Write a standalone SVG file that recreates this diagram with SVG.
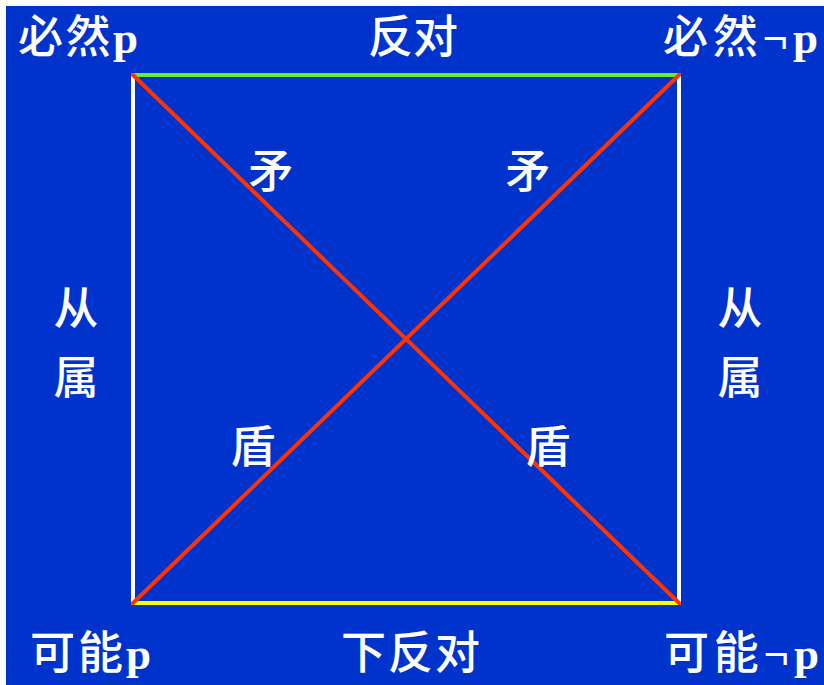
<svg xmlns="http://www.w3.org/2000/svg" width="824" height="685" viewBox="0 0 824 685">
<style>
.t{font-family:"Liberation Serif","Noto Sans CJK SC",serif;font-size:45px;font-weight:500;fill:#ffffff}
.b{font-weight:bold}
.m{text-anchor:middle}
.ln{stroke-width:4;fill:none;stroke-linecap:round}
</style>
<rect x="0" y="0" width="824" height="685" fill="#ffffff"/>
<rect x="6" y="6" width="818" height="679" fill="#0033cc"/>
<g id="connectors">
<line class="ln" x1="133" y1="75" x2="133" y2="603" stroke="#ffffff"/>
<line class="ln" x1="679" y1="75" x2="679" y2="603" stroke="#ffffff"/>
<line class="ln" x1="133" y1="75" x2="679" y2="75" stroke="#66ee33"/>
<line class="ln" x1="133" y1="603" x2="679" y2="603" stroke="#ffff00"/>
<line class="ln" x1="133" y1="75" x2="679" y2="603" stroke="#ff3300"/>
<line class="ln" x1="679" y1="75" x2="133" y2="603" stroke="#ff3300"/>
</g>
<g id="n-nec-p"><text class="t" x="18" y="53" textLength="120" lengthAdjust="spacing">必然<tspan class="b">p</tspan></text></g>
<g id="n-nec-notp"><text class="t" x="663" y="53" textLength="155" lengthAdjust="spacing">必然<tspan class="b">¬p</tspan></text></g>
<g id="n-pos-p"><text class="t" x="30" y="669" textLength="121" lengthAdjust="spacing">可能<tspan class="b">p</tspan></text></g>
<g id="n-pos-notp"><text class="t" x="664" y="669" textLength="155" lengthAdjust="spacing">可能<tspan class="b">¬p</tspan></text></g>
<g id="l-contrary"><text class="t" x="368" y="53" textLength="90" lengthAdjust="spacing">反对</text></g>
<g id="l-subcontrary"><text class="t" x="341" y="669" textLength="139" lengthAdjust="spacing">下反对</text></g>
<g id="l-sub-left"><text class="t m" x="76" y="325">从</text><text class="t m" x="76" y="394">属</text></g>
<g id="l-sub-right"><text class="t m" x="740" y="325">从</text><text class="t m" x="740" y="394">属</text></g>
<g id="l-contra"><text class="t m" x="271" y="188">矛</text><text class="t m" x="528" y="188">矛</text><text class="t m" x="253" y="463">盾</text><text class="t m" x="548" y="463">盾</text></g>
</svg>
